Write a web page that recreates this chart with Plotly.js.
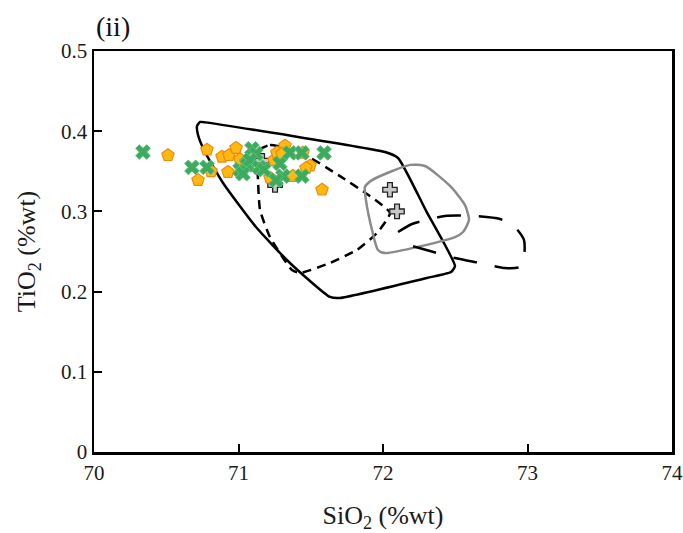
<!DOCTYPE html>
<html>
<head>
<meta charset="utf-8">
<script src="https://cdn.plot.ly/plotly-3.0.1.min.js"></script>
<style>html,body{margin:0;padding:0;background:#fff;}#chart{width:683px;height:533px;}</style>
</head>
<body>
<div id="chart"></div>
<script>
// Field outlines (SiO2, TiO2)
const solidX = [70.734,70.77,72.014,72.104,72.30,72.498,72.471,72.304,71.702,71.633,71.356,71.121,70.893,70.768,70.720,70.713,70.734];
const solidY = [0.4115,0.411,0.374,0.3666,0.30,0.2319,0.2244,0.217,0.192,0.1933,0.2357,0.2805,0.3354,0.374,0.3953,0.4065,0.4115];
const shortDashX = [71.135,71.218,71.426,71.702,71.910,72.048,71.958,71.820,71.633,71.426,71.370,71.218,71.149,71.135,71.135];
const shortDashY = [0.3753,0.3828,0.374,0.344,0.319,0.298,0.273,0.252,0.2357,0.2232,0.227,0.268,0.3017,0.339,0.3753];
const greyX = [71.875,71.924,72.187,72.291,72.464,72.567,72.595,72.554,72.498,72.014,71.965,71.924,71.882,71.875];
const greyY = [0.3304,0.339,0.358,0.3566,0.3317,0.308,0.2893,0.2743,0.268,0.248,0.2519,0.2768,0.314,0.3304];
const longDashX = [72.104,72.201,72.429,72.637,72.81,72.913,72.976,72.976,72.948,72.844,72.671,72.498,72.325,72.152];
const longDashY = [0.2743,0.2843,0.2943,0.2943,0.2905,0.2805,0.2643,0.2419,0.2307,0.2294,0.2357,0.2419,0.2506,0.2594];

// Samples
const plusX = [71.163,71.253,72.048,72.097];
const plusY = [0.363,0.333,0.327,0.300];
const pentX = [70.512,70.782,70.720,70.810,70.886,70.934,70.983,71.010,70.927,71.218,71.246,71.266,71.322,71.301,71.377,71.446,71.495,71.578,71.052,71.467];
const pentY = [0.370,0.377,0.339,0.350,0.368,0.370,0.379,0.365,0.349,0.342,0.364,0.373,0.382,0.372,0.344,0.373,0.357,0.327,0.362,0.354];
const crossX = [70.339,70.678,70.782,71.010,71.059,71.093,71.121,71.080,71.031,71.142,71.176,71.287,71.308,71.356,71.439,71.439,71.592,71.260];
const crossY = [0.374,0.355,0.355,0.352,0.358,0.378,0.372,0.364,0.347,0.355,0.352,0.360,0.344,0.373,0.373,0.344,0.373,0.339];

const xTicks = [70,71,72,73,74];
const yTicks = [0,0.1,0.2,0.3,0.4,0.5];

const font = 'Liberation Serif, Times New Roman, serif';
const traces = [
  {x: solidX, y: solidY, mode:'lines', line:{color:'#000', width:2.5, shape:'spline', smoothing:0.5}, hoverinfo:'skip'},
  {x: shortDashX, y: shortDashY, mode:'lines', line:{color:'#000', width:2.5, dash:'9px,6px', shape:'spline', smoothing:0.5}, hoverinfo:'skip'},
  {x: greyX, y: greyY, mode:'lines', line:{color:'#8a8a8a', width:2.5, shape:'spline', smoothing:0.6}, hoverinfo:'skip'},
  {x: longDashX, y: longDashY, mode:'lines', line:{color:'#000', width:2.5, dash:'24px,18px', shape:'spline', smoothing:0.6}, hoverinfo:'skip'},
  {x: plusX, y: plusY, mode:'markers', marker:{symbol:'cross', size:12, color:'#c8c8c8', line:{color:'#222', width:1.3}}},
  {x: pentX, y: pentY, mode:'markers', marker:{symbol:'pentagon', size:13, color:'#ffb90f', line:{color:'#f08a0c', width:1.2}}},
  {x: crossX, y: crossY, mode:'markers', marker:{symbol:'x', size:13, color:'#3daa5e', line:{color:'#5cc47c', width:1}}}
];

const axisCommon = {
  showgrid:false, zeroline:false, showline:true, mirror:true, linecolor:'#000', linewidth:2.5,
  ticks:'inside', ticklen:8, tickwidth:2, tickcolor:'#000',
  tickfont:{family:font, size:21, color:'#1a1a1a'}
};

const layout = {
  width:683, height:533,
  margin:{l:94, r:11, t:51, b:81},
  paper_bgcolor:'#fff', plot_bgcolor:'#fff',
  showlegend:false,
  xaxis: Object.assign({}, axisCommon, {
    range:[70,74], tickvals:xTicks, ticktext:xTicks.map(String),
    title:{text:'SiO<sub>2</sub> (%wt)', font:{family:font, size:26, color:'#1a1a1a'}, standoff:24}
  }),
  yaxis: Object.assign({}, axisCommon, {
    range:[0,0.5], tickvals:yTicks, ticktext:yTicks.map(v=>String(v)),
    title:{text:'TiO<sub>2</sub> (%wt)', font:{family:font, size:26, color:'#1a1a1a'}, standoff:18}
  }),
  annotations:[{
    text:'(ii)', xref:'paper', yref:'paper', x:0, y:1, xanchor:'left', yanchor:'bottom',
    yshift:7, showarrow:false, font:{family:font, size:28, color:'#111'}
  }]
};

Plotly.newPlot('chart', traces, layout, {staticPlot:true, displayModeBar:false});
</script>
</body>
</html>
